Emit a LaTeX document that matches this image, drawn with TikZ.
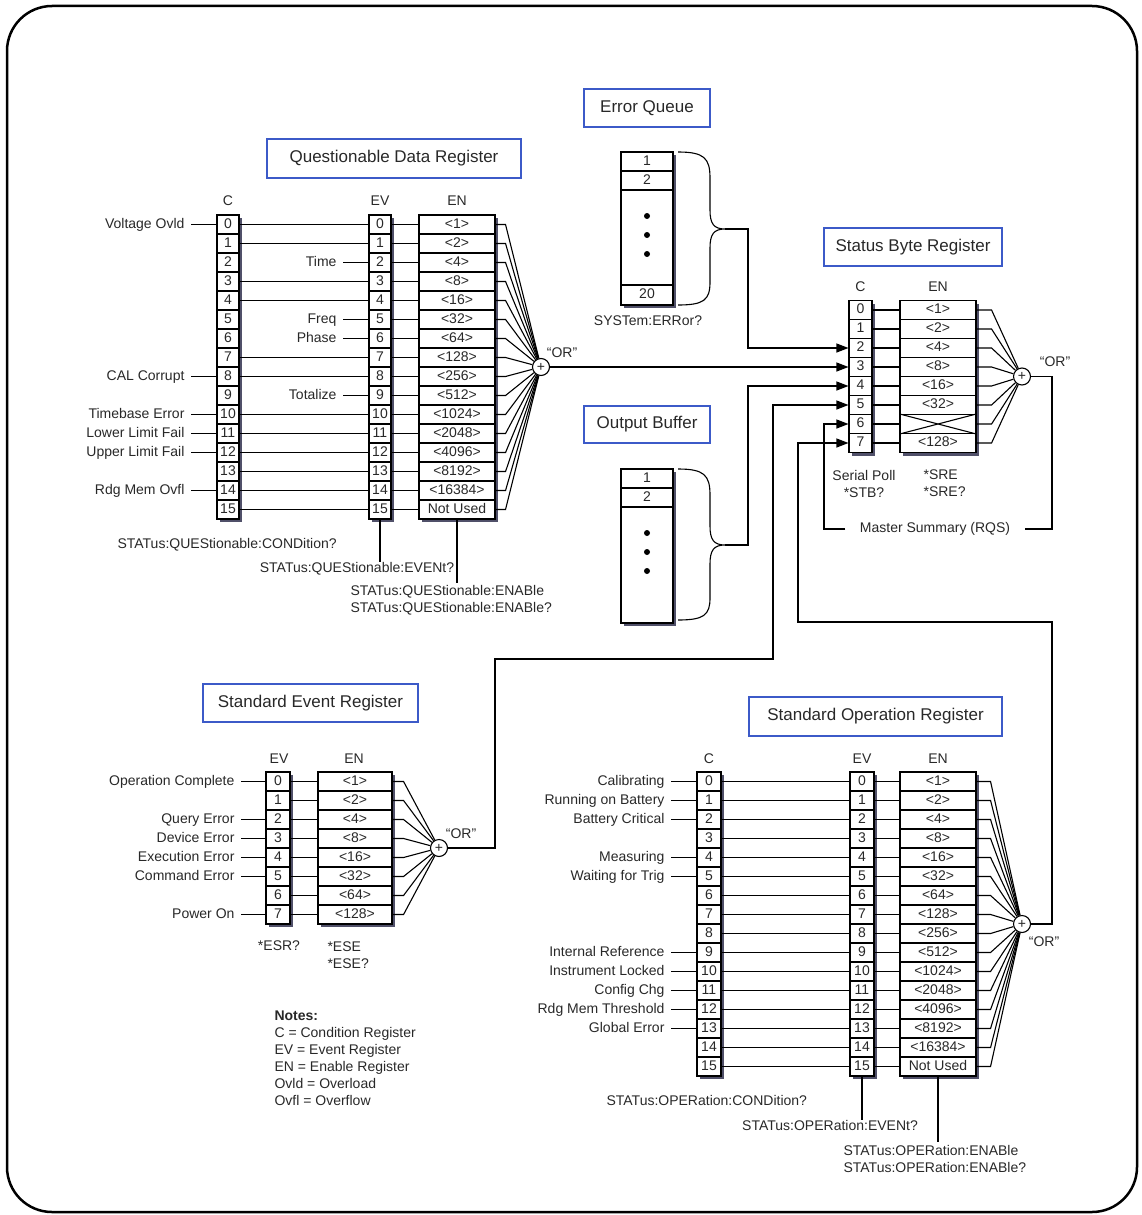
\documentclass[tikz,border=0pt]{standalone}
\usepackage{fontspec}
\setmainfont{Liberation Sans}
\usetikzlibrary{arrows.meta,calc}
\definecolor{txt}{RGB}{40,40,40}
\definecolor{tblue}{RGB}{60,90,200}
\definecolor{shad}{RGB}{80,80,105}
\tikzset{
  every node/.style={text=txt},
  lbl/.style={font=\fontsize{14}{17}\selectfont, inner xsep=6pt, inner ysep=2pt},
  slbl/.style={lbl, text height=10pt, text depth=3pt, inner ysep=0pt},
  cell/.style={draw, fill=white, minimum height=19pt, inner sep=0pt, text height=10pt, text depth=3pt, font=\fontsize{14}{16}\selectfont},
  titlebox/.style={draw=tblue, line width=1.3pt, font=\fontsize{17}{20}\selectfont, inner sep=0pt},
  orc/.style={circle, draw, fill=white, minimum size=17pt, inner sep=0pt, font=\fontsize{14}{14}\selectfont},
  arr/.style={-{Triangle[length=12pt,width=9pt]}},
}
\newcommand\regcol[6]{%
  \fill[shad] ({#2-#4/2+3},{#3+3}) rectangle ({#2+#4/2+3},{#3+19*#5+3});
  \foreach \lab [count=\k from 0] in {#6}{\node[cell, minimum width=#4pt] (#1\k) at (#2,{#3+9.5+19*\k}) {\lab};}
}
\begin{document}
\begin{tikzpicture}[x=1pt,y=-1pt,line width=1.1pt]
\useasboundingbox (0,0) rectangle (1141,1215);
\draw[line width=2.5pt, rounded corners=45pt] (7,6) rectangle (1137,1212);

% titles
\node[titlebox, minimum width=254pt, minimum height=39pt] (qt) at (394,158.5) {Questionable Data Register};
\node[titlebox, minimum width=126pt, minimum height=38pt] (eqt) at (647,108) {Error Queue};
\node[titlebox, minimum width=178pt, minimum height=38pt] (sbt) at (913,247) {Status Byte Register};
\node[titlebox, minimum width=126pt, minimum height=37pt] (obt) at (647,424.5) {Output Buffer};
\node[titlebox, minimum width=215pt, minimum height=38pt] (set) at (310.5,703) {Standard Event Register};
\node[titlebox, minimum width=253pt, minimum height=39pt] (sot) at (875.5,716.5) {Standard Operation Register};

% ===== Questionable Data Register =====
\node[slbl] (qch) at (228,202) {C};
\node[slbl] (qevh) at (380,202) {EV};
\node[slbl] (qenh) at (457,202) {EN};
\regcol{qc}{228}{215}{22}{16}{0,1,...,15}
\regcol{qev}{380}{215}{22}{16}{0,1,...,15}
\regcol{qen}{457}{215}{76}{16}{<1>,<2>,<4>,<8>,<16>,<32>,<64>,<128>,<256>,<512>,<1024>,<2048>,<4096>,<8192>,<16384>,Not Used}
\node[orc] (qor) at (541,367) {+};
\node[slbl] (qorl) at (562,354) {“OR”};
\foreach \r/\t in {0/Voltage Ovld,8/CAL Corrupt,10/Timebase Error,11/Lower Limit Fail,12/Upper Limit Fail,14/Rdg Mem Ovfl}{
  \node[slbl, anchor=east] (ql\r) at (191,{224.5+19*\r}) {\t};
  \draw (ql\r) -- (qc\r.west);}
\foreach \r/\t in {2/Time,5/Freq,6/Phase,9/Totalize}{
  \node[slbl, anchor=east] (qel\r) at (343,{224.5+19*\r}) {\t};
  \draw (qel\r) -- (qev\r.west);}
\foreach \r in {0,1,3,4,7,8,10,11,12,13,14,15} \draw (qc\r.east) -- (qev\r.west);
\foreach \r in {0,...,15} {\draw (qev\r.east) -- (qen\r.west);
  \draw (qen\r.east) -- ++(10,0) -- (qor);}
\node[slbl, anchor=west] (qcq) at (111,545) {STATus:QUEStionable:CONDition?};
\node[slbl] (qevq) at (357,569) {STATus:QUEStionable:EVENt?};
\node[lbl, anchor=west, align=left] (qenq) at (344,600.5) {STATus:QUEStionable:ENABle\\STATus:QUEStionable:ENABle?};
\draw (qev15.south) -- (qev15.south |- qevq.north);
\draw (qen15.south) -- (qen15.south |- qenq.north);

% ===== Error Queue =====
\fill[shad] (624,155) rectangle (676,308);
\node[cell, minimum width=52pt] (eq1) at (647,161.5) {1};
\node[cell, minimum width=52pt] (eq2) at (647,180.5) {2};
\node[cell, minimum width=52pt, minimum height=95pt] (eqm) at (647,237.5) {};
\node[cell, minimum width=52pt, minimum height=20pt] (eq20) at (647,295) {20};
\foreach \yy in {216,235,254} \fill (647,\yy) circle (3);
\coordinate (eqtip) at (725,229);
\draw (678,152) .. controls (704,152) and (710,158) .. (710,178) -- (710,210) .. controls (710,224) and (714,229) .. (eqtip) .. controls (714,229) and (710,234) .. (710,248) -- (710,282) .. controls (710,300) and (704,305) .. (678,305);
\node[slbl] (eqq) at (648,322) {SYSTem:ERRor?};

% ===== Output Buffer =====
\fill[shad] (624,472) rectangle (676,626);
\node[cell, minimum width=52pt] (ob1) at (647,478.5) {1};
\node[cell, minimum width=52pt] (ob2) at (647,497.5) {2};
\node[cell, minimum width=52pt, minimum height=116pt] (obm) at (647,565) {};
\foreach \yy in {533,552,571} \fill (647,\yy) circle (3);
\coordinate (obtip) at (725,545);
\draw (678,469) .. controls (704,469) and (710,475) .. (710,495) -- (710,526) .. controls (710,540) and (714,545) .. (obtip) .. controls (714,545) and (710,550) .. (710,564) -- (710,598) .. controls (710,615) and (704,620) .. (678,620);

% ===== Status Byte Register =====
\node[slbl] (sbch) at (860.5,288) {C};
\node[slbl] (sbenh) at (938,288) {EN};
\regcol{sbc}{860.5}{300.5}{23}{8}{0,1,...,7}
\regcol{sben}{938}{300.5}{76}{8}{<1>,<2>,<4>,<8>,<16>,<32>,{},<128>}
\draw (sben6.north west) -- (sben6.south east) (sben6.south west) -- (sben6.north east);
\node[orc] (sbor) at (1022,376.5) {+};
\node[slbl] (sborl) at (1055,363) {“OR”};
\foreach \r in {0,...,7} {\draw (sbc\r.east) -- (sben\r.west);
  \draw (sben\r.east) -- ++(15,0) -- (sbor);}
\node[lbl, align=center] (sbq1) at (864,483.5) {Serial Poll\\*STB?};
\node[lbl, anchor=west, align=left] (sbq2) at (917,483.5) {*SRE\\*SRE?};
\node[slbl, inner xsep=14pt] (rqs) at (935,529) {Master Summary (RQS)};
\draw (sbor) -- (1052,376.5) -- (1052,529) -- (rqs.east);

% ===== Standard Event Register =====
\node[slbl] (seevh) at (279,760) {EV};
\node[slbl] (seenh) at (354,760) {EN};
\regcol{seev}{278}{772}{24}{8}{0,1,...,7}
\regcol{seen}{355}{772}{74}{8}{<1>,<2>,<4>,<8>,<16>,<32>,<64>,<128>}
\node[orc] (seor) at (439,848) {+};
\node[slbl] (seorl) at (461,835) {“OR”};
\foreach \r/\t in {0/Operation Complete,2/Query Error,3/Device Error,4/Execution Error,5/Command Error,7/Power On}{
  \node[slbl, anchor=east] (sel\r) at (241,{781.5+19*\r}) {\t};
  \draw (sel\r) -- (seev\r.west);}
\foreach \r in {0,...,7} {\draw (seev\r.east) -- (seen\r.west);
  \draw (seen\r.east) -- ++(11,0) -- (seor);}
\node[slbl] (seq1) at (279,947) {*ESR?};
\node[lbl, anchor=west, align=left] (seq2) at (321,955.5) {*ESE\\*ESE?};

% ===== Standard Operation Register =====
\node[slbl] (soch) at (709,760) {C};
\node[slbl] (soevh) at (862,760) {EV};
\node[slbl] (soenh) at (938,760) {EN};
\regcol{soc}{709}{772}{24}{16}{0,1,...,15}
\regcol{soev}{862}{772}{24}{16}{0,1,...,15}
\regcol{soen}{938}{772}{76}{16}{<1>,<2>,<4>,<8>,<16>,<32>,<64>,<128>,<256>,<512>,<1024>,<2048>,<4096>,<8192>,<16384>,Not Used}
\node[orc] (soor) at (1022,924) {+};
\node[slbl] (soorl) at (1044,943) {“OR”};
\foreach \r/\t in {0/Calibrating,1/Running on Battery,2/Battery Critical,4/Measuring,5/Waiting for Trig,9/Internal Reference,10/Instrument Locked,11/Config Chg,12/Rdg Mem Threshold,13/Global Error}{
  \node[slbl, anchor=east] (sol\r) at (671,{781.5+19*\r}) {\t};
  \draw (sol\r) -- (soc\r.west);}
\foreach \r in {0,...,15} {\draw (soc\r.east) -- (soev\r.west);
  \draw (soev\r.east) -- (soen\r.west);
  \draw (soen\r.east) -- ++(14,0) -- (soor);}
\node[slbl, anchor=west] (socq) at (600,1102) {STATus:OPERation:CONDition?};
\node[slbl] (soevq) at (830,1127) {STATus:OPERation:EVENt?};
\node[lbl, anchor=west, align=left] (soenq) at (837,1158.5) {STATus:OPERation:ENABle\\STATus:OPERation:ENABle?};
\draw (soev15.south) -- (soev15.south |- soevq.north);
\draw (soen15.south) -- (soen15.south |- soenq.north);

% ===== connections into Status Byte =====
\draw[arr] (qor) -- (sbc3.west);
\draw[arr] (eqtip) -- (748,229) |- (sbc2.west);
\draw[arr] (obtip) -- (748,545) |- (sbc4.west);
\draw[arr] (seor) -- (495,848) -- (495,659) -- (773,659) |- (sbc5.west);
\draw[arr] (rqs.west) -- (824,529) |- (sbc6.west);
\draw[arr] (soor) -- (1052,924) -- (1052,622) -- (798,622) |- (sbc7.west);

% notes
\node[lbl, anchor=north west, align=left] (notes) at (268,1008) {\textbf{Notes:}\\C = Condition Register\\EV = Event Register\\EN = Enable Register\\Ovld = Overload\\Ovfl = Overflow};
\end{tikzpicture}
\end{document}
